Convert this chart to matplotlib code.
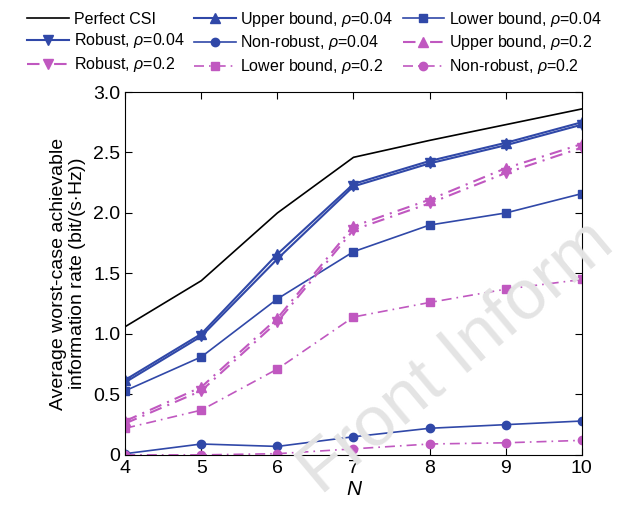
import matplotlib
matplotlib.use('Agg')
import matplotlib.pyplot as plt
from matplotlib.ticker import FuncFormatter

plt.rcParams['font.family'] = ['Liberation Sans', 'DejaVu Sans']
plt.rcParams['mathtext.fontset'] = 'custom'
plt.rcParams['mathtext.it'] = 'Liberation Sans:italic'
plt.rcParams['mathtext.rm'] = 'Liberation Sans'

N = [4, 5, 6, 7, 8, 9, 10]

perfect_csi = [1.06, 1.44, 2.00, 2.46, 2.60, 2.73, 2.86]
upper_004 = [0.62, 1.00, 1.66, 2.24, 2.43, 2.58, 2.75]
robust_004 = [0.60, 0.98, 1.62, 2.22, 2.41, 2.56, 2.73]
lower_004 = [0.53, 0.81, 1.29, 1.68, 1.90, 2.00, 2.16]
nonrobust_004 = [0.01, 0.09, 0.07, 0.15, 0.22, 0.25, 0.28]
upper_02 = [0.28, 0.56, 1.13, 1.89, 2.11, 2.37, 2.57]
robust_02 = [0.26, 0.53, 1.10, 1.86, 2.08, 2.33, 2.54]
lower_02 = [0.22, 0.37, 0.71, 1.14, 1.26, 1.37, 1.45]
nonrobust_02 = [0.00, 0.00, 0.01, 0.05, 0.09, 0.10, 0.12]

blue = '#3048a8'
mag = '#c058c0'
dashdot = (0, (6, 3, 1, 3))

fig = plt.figure(figsize=(6.29, 5.14), dpi=100)
# faint watermark behind the plot
fig.text(0.51, 0.035, 'Front Inform', fontsize=51, color='#e4e4e4', rotation=40,
         ha='left', va='baseline', zorder=0, rotation_mode='anchor')
ax = fig.add_axes([0.199, 0.115, 0.726, 0.706])
ax.patch.set_alpha(0)

ax.plot(N, perfect_csi, color='black', lw=1.2, label='Perfect CSI')
ax.plot(N, upper_004, color=blue, lw=1.5, marker='^', ms=7, label=r'Upper bound, $\rho$=0.04')
ax.plot(N, lower_004, color=blue, lw=1.2, marker='s', ms=6, label=r'Lower bound, $\rho$=0.04')
ax.plot(N, robust_004, color=blue, lw=1.5, marker='v', ms=7, label=r'Robust, $\rho$=0.04')
ax.plot(N, nonrobust_004, color=blue, lw=1.2, marker='o', ms=6, label=r'Non-robust, $\rho$=0.04')
ax.plot(N, upper_02, color=mag, lw=1.5, ls=dashdot, marker='^', ms=7, label=r'Upper bound, $\rho$=0.2')
ax.plot(N, robust_02, color=mag, lw=1.5, ls=dashdot, marker='v', ms=7, label=r'Robust, $\rho$=0.2')
ax.plot(N, lower_02, color=mag, lw=1.2, ls=dashdot, marker='s', ms=6, label=r'Lower bound, $\rho$=0.2')
ax.plot(N, nonrobust_02, color=mag, lw=1.2, ls=dashdot, marker='o', ms=6, label=r'Non-robust, $\rho$=0.2')

ax.set_xlim(4, 10)
ax.set_ylim(0, 3.0)
ax.set_xticks(N)
ax.set_yticks([0, 0.5, 1.0, 1.5, 2.0, 2.5, 3.0])
ax.yaxis.set_major_formatter(FuncFormatter(lambda v, p: '0' if v == 0 else f'{v:.1f}'))
ax.tick_params(direction='in', top=True, right=True, labelsize=14, length=5)
ax.set_xlabel('N', fontsize=15, style='italic', labelpad=2)
ax.set_ylabel('Average worst-case achievable\ninformation rate (bit/(s$\\cdot$Hz))', fontsize=14, linespacing=1.0)

handles, labels = ax.get_legend_handles_labels()
# row-major order in the legend
order = [0, 3, 6, 1, 4, 7, 2, 5, 8]
fig.legend([handles[i] for i in order], [labels[i] for i in order], loc='upper center',
           bbox_to_anchor=(0.5, 1.0), ncol=3, frameon=False, fontsize=11.5, handlelength=2.6,
           columnspacing=0.6, handletextpad=0.3, labelspacing=0.3, borderaxespad=0.2)

fig.savefig('out.png', dpi=100)
